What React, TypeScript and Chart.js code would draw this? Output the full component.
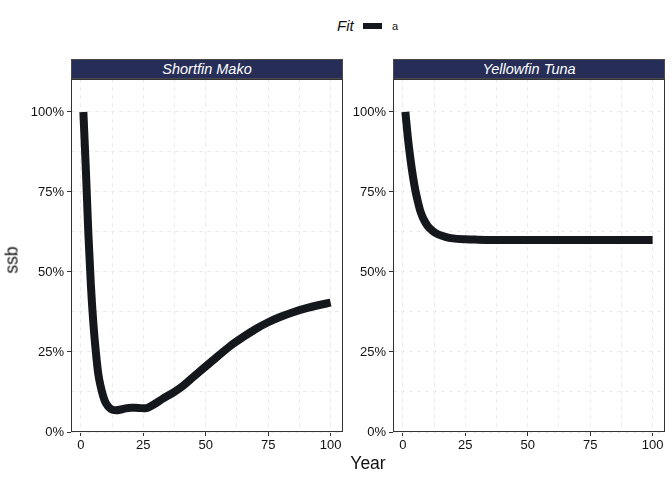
import React, { useEffect, useRef } from "react";
import { Chart, registerables } from "chart.js";

Chart.register(...registerables);

// ---- data ----
const makoYears = [1, 2, 3, 4, 5, 6, 7, 8, 9, 10, 12, 14, 17, 20, 23, 26, 29, 33, 37, 41, 45, 50, 55, 60, 65, 70, 75, 80, 85, 90, 95, 100];
const makoSsb = [1.0, 0.82, 0.62, 0.46, 0.34, 0.25, 0.18, 0.14, 0.11, 0.09, 0.072, 0.068, 0.072, 0.076, 0.075, 0.074, 0.085, 0.105, 0.123, 0.145, 0.172, 0.205, 0.238, 0.27, 0.297, 0.322, 0.343, 0.36, 0.374, 0.386, 0.396, 0.404];

const tunaYears = [1, 2, 3, 4, 5, 6, 7, 8, 9, 10, 12, 14, 17, 20, 25, 30, 40, 50, 60, 70, 80, 90, 100];
const tunaSsb = [1.0, 0.92, 0.855, 0.8, 0.755, 0.72, 0.69, 0.67, 0.655, 0.643, 0.628, 0.618, 0.61, 0.605, 0.602, 0.601, 0.6, 0.6, 0.6, 0.6, 0.6, 0.6, 0.6];

const xTickValues = [0, 12.5, 25, 37.5, 50, 62.5, 75, 87.5, 100];
const yTickValues = [0, 0.125, 0.25, 0.375, 0.5, 0.625, 0.75, 0.875, 1.0];

const panelTitles = ["Shortfin Mako", "Yellowfin Tuna"];
const legendTitle = "Fit";
const legendLabels = ["a"];
const xAxisTitle = "Year";
const yAxisTitle = "ssb";

const LINE_COLOR = "#14171c";
const STRIP_COLOR = "#262d56";
const FONT = "'Liberation Sans', Arial, Helvetica, sans-serif";

const panelBorder = {
  id: "panelBorder",
  afterDraw(chart: any) {
    const { ctx, chartArea } = chart;
    ctx.save();
    ctx.strokeStyle = "#333333";
    ctx.lineWidth = 1;
    ctx.setLineDash([]);
    ctx.strokeRect(
      Math.round(chartArea.left) + 0.5,
      Math.round(chartArea.top) + 0.5,
      Math.round(chartArea.right - chartArea.left) - 1,
      Math.round(chartArea.bottom - chartArea.top) - 1
    );
    ctx.restore();
  },
};

function Panel(props: {
  left: number;
  width: number;
  yAxisWidth: number;
  years: number[];
  values: number[];
  title: string;
}) {
  const ref = useRef<HTMLCanvasElement>(null);
  useEffect(() => {
    if (!ref.current) return;
    const major = (v: number, step: number) => Math.abs(v / step - Math.round(v / step)) < 1e-6;
    const chart = new Chart(ref.current, {
      type: "line",
      data: {
        datasets: [
          {
            data: props.years.map((x, i) => ({ x, y: props.values[i] })),
            borderColor: LINE_COLOR,
            borderWidth: 8,
            pointRadius: 0,
            cubicInterpolationMode: "monotone",
            borderCapStyle: "butt",
            borderJoinStyle: "round",
            fill: false,
          } as any,
        ],
      },
      options: {
        animation: false,
        responsive: false,
        maintainAspectRatio: false,
        layout: { padding: { left: 0, right: 7, top: 0, bottom: 0 } },
        plugins: { legend: { display: false }, tooltip: { enabled: false } },
        scales: {
          x: {
            type: "linear",
            min: -3.95,
            max: 104.95,
            afterBuildTicks: (scale: any) => {
              scale.ticks = xTickValues.map((v) => ({ value: v }));
            },
            afterFit: (scale: any) => {
              scale.height = 28;
              scale.paddingLeft = 0;
              scale.paddingRight = 0;
            },
            ticks: {
              autoSkip: false,
              maxRotation: 0,
              padding: 2,
              color: "#111111",
              font: { family: FONT, size: 13 },
              callback: (v: any) => (major(Number(v), 25) ? String(v) : ""),
            },
            grid: {
              color: "#ebebeb",
              lineWidth: 1,
              tickLength: 4,
              tickBorderDash: [],
              tickColor: (ctx: any) =>
                ctx.tick && major(ctx.tick.value, 25) ? "#333333" : "rgba(0,0,0,0)",
            } as any,
            border: { display: false, dash: [4, 4] },
          },
          y: {
            type: "linear",
            min: 0,
            max: 1.103,
            afterBuildTicks: (scale: any) => {
              scale.ticks = yTickValues.map((v) => ({ value: v }));
            },
            afterFit: (scale: any) => {
              scale.width = props.yAxisWidth;
              scale.paddingTop = 0;
              scale.paddingBottom = 0;
            },
            ticks: {
              autoSkip: false,
              padding: 3,
              color: "#111111",
              font: { family: FONT, size: 13 },
              callback: (v: any) =>
                major(Number(v), 0.25) ? `${Math.round(Number(v) * 100)}%` : "",
            },
            grid: {
              color: "#ebebeb",
              lineWidth: 1,
              tickLength: 4,
              tickBorderDash: [],
              tickColor: (ctx: any) =>
                ctx.tick && major(ctx.tick.value, 0.25) ? "#333333" : "rgba(0,0,0,0)",
            } as any,
            border: { display: false, dash: [4, 4] },
          },
        },
      },
      plugins: [panelBorder],
    });
    return () => chart.destroy();
  }, []);

  const plotLeft = props.left + props.yAxisWidth;
  const plotWidth = props.width - props.yAxisWidth - 7;
  return (
    <>
      <div
        style={{
          position: "absolute",
          left: plotLeft,
          top: 59,
          width: plotWidth,
          height: 20,
          boxSizing: "border-box",
          background: STRIP_COLOR,
          border: "1px solid #4a4a4a",
          color: "#ffffff",
          fontStyle: "italic",
          fontSize: 14.5,
          lineHeight: "19px",
          textAlign: "center",
          whiteSpace: "nowrap",
        }}
      >
        {props.title}
      </div>
      <canvas
        ref={ref}
        width={props.width}
        height={381}
        style={{ position: "absolute", left: props.left, top: 79, width: props.width, height: 381 }}
      />
    </>
  );
}

export default function App() {
  useEffect(() => {
    document.body.style.margin = "0";
  }, []);
  return (
    <div
      style={{
        position: "fixed",
        left: 0,
        top: 0,
        width: 672,
        height: 480,
        background: "#ffffff",
        fontFamily: FONT,
        overflow: "hidden",
      }}
    >
      {/* legend */}
      <div style={{ position: "absolute", left: 337, top: 17, fontSize: 15, fontStyle: "italic", color: "#111", lineHeight: "18px" }}>
        {legendTitle}
      </div>
      <div style={{ position: "absolute", left: 363, top: 22.5, width: 19, height: 6.5, background: LINE_COLOR }} />
      <div style={{ position: "absolute", left: 392, top: 19, fontSize: 11, color: "#111", lineHeight: "14px" }}>
        {legendLabels[0]}
      </div>

      <Panel left={0} width={350} yAxisWidth={71} years={makoYears} values={makoSsb} title={panelTitles[0]} />
      <Panel left={350} width={322} yAxisWidth={43} years={tunaYears} values={tunaSsb} title={panelTitles[1]} />

      {/* axis titles */}
      <div
        style={{
          position: "absolute",
          left: 12,
          top: 260,
          transform: "translate(-50%, -50%) rotate(-90deg)",
          fontSize: 17.5,
          color: "#111",
          whiteSpace: "nowrap",
        }}
      >
        {yAxisTitle}
      </div>
      <div
        style={{
          position: "absolute",
          left: 368,
          top: 463,
          transform: "translate(-50%, -50%)",
          fontSize: 17.5,
          color: "#111",
          whiteSpace: "nowrap",
        }}
      >
        {xAxisTitle}
      </div>
    </div>
  );
}
